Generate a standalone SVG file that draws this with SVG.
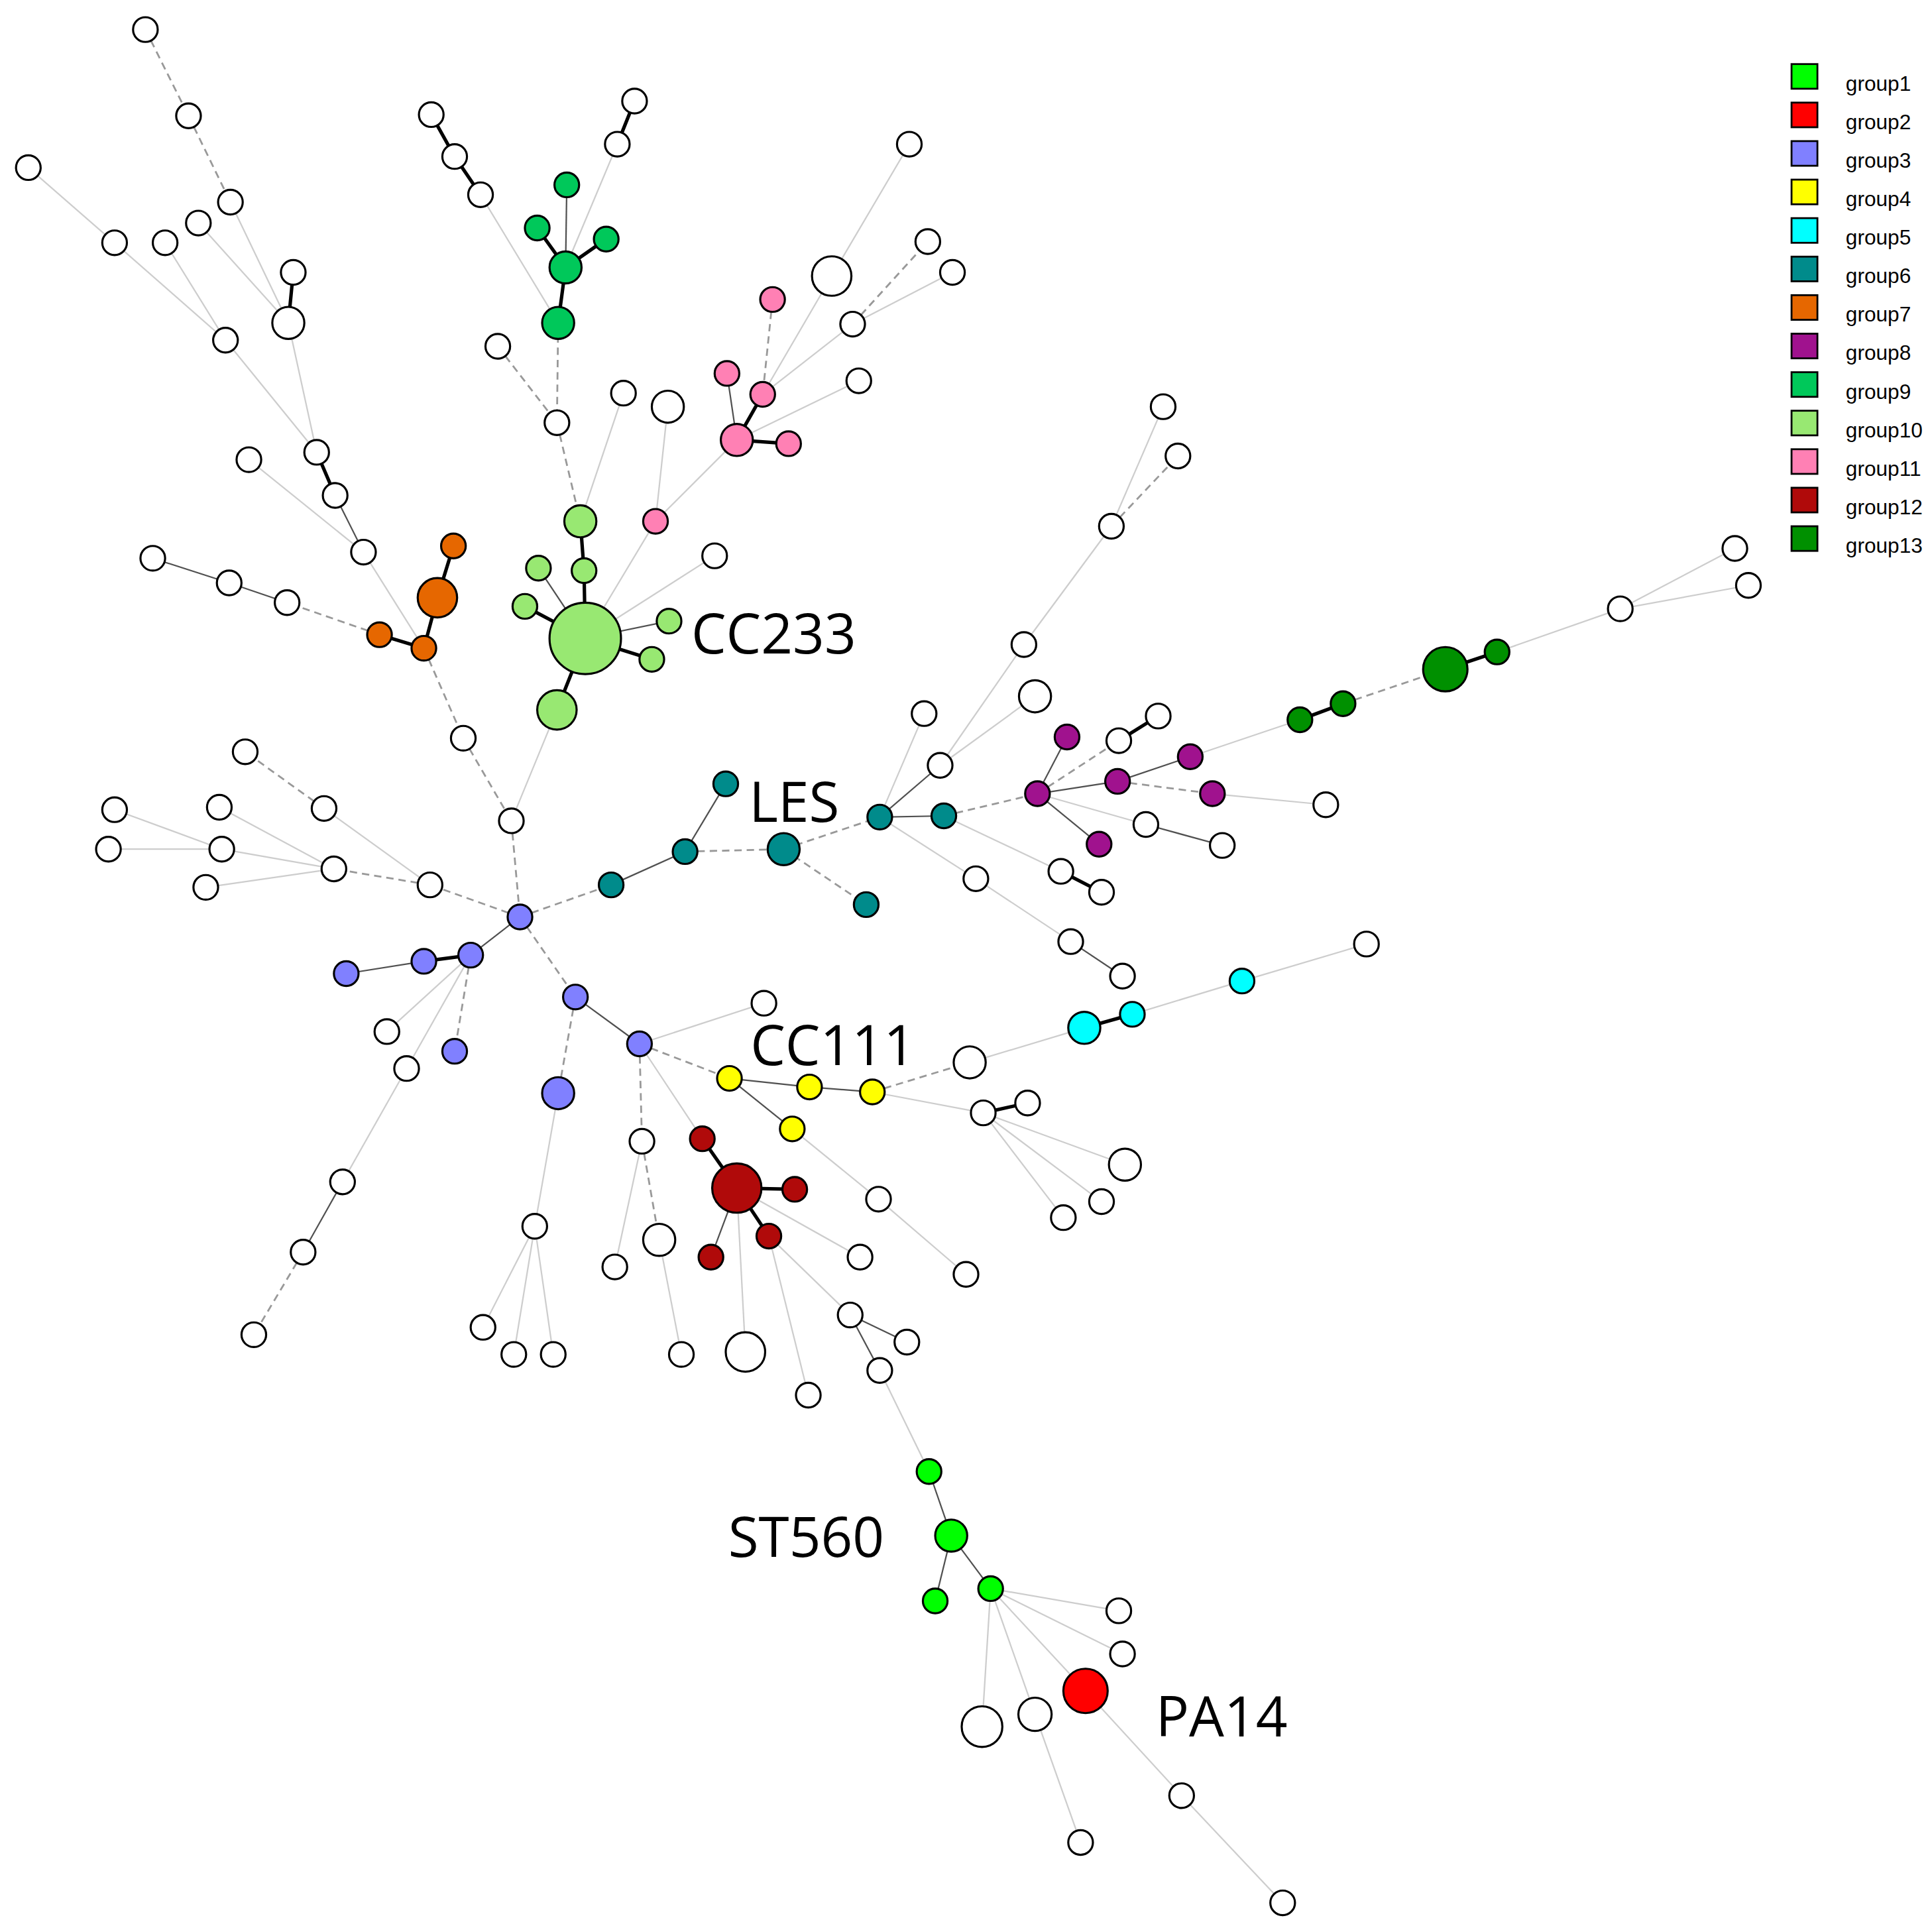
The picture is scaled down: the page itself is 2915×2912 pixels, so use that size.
<svg xmlns="http://www.w3.org/2000/svg" width="2915" height="2912" viewBox="0 0 2915 2912">
<style>
.K{stroke:#000;stroke-width:2.8;stroke-linecap:round}
.T{stroke:#505050;stroke-width:1.2}
.D{stroke:#999;stroke-width:1.5;stroke-dasharray:6 4}
.L{stroke:#cdcdcd;stroke-width:1.2}
circle{stroke:#000;stroke-width:1.7}
.w{fill:#fff}.g1{fill:#00ff00}.g2{fill:#ff0000}.g3{fill:#8080ff}.g4{fill:#ffff00}.g5{fill:#00ffff}.g6{fill:#008b8b}.g7{fill:#e66700}.g8{fill:#a0128e}.g9{fill:#00c85a}.g10{fill:#98e872}.g11{fill:#ff80b4}.g12{fill:#b00a0a}.g13{fill:#009000}
.lbl{font-family:"Open Sans","Noto Sans",sans-serif;font-size:45px;fill:#000}
.leg{font-family:"Liberation Sans",Arial,sans-serif;font-size:17px;fill:#000}
.sq{stroke:#000;stroke-width:1.5}
</style>
<rect width="2915" height="2912" fill="#fff"/>
<g transform="scale(1.85906 1.85951)">
<g id="connectors">
<line class="D" x1="118" y1="24" x2="153" y2="94"/>
<line class="D" x1="153" y1="94" x2="187" y2="164"/>
<line class="L" x1="187" y1="164" x2="234" y2="262"/>
<line class="L" x1="161" y1="181" x2="234" y2="262"/>
<line class="K" x1="238" y1="221" x2="234" y2="262"/>
<line class="L" x1="234" y1="262" x2="257" y2="367"/>
<line class="L" x1="23" y1="136" x2="93" y2="197"/>
<line class="L" x1="93" y1="197" x2="183" y2="276"/>
<line class="L" x1="134" y1="197" x2="183" y2="276"/>
<line class="L" x1="183" y1="276" x2="257" y2="367"/>
<line class="K" x1="257" y1="367" x2="272" y2="402"/>
<line class="T" x1="272" y1="402" x2="295" y2="448"/>
<line class="L" x1="202" y1="373" x2="295" y2="448"/>
<line class="L" x1="295" y1="448" x2="344" y2="526"/>
<line class="K" x1="368" y1="443" x2="355" y2="485"/>
<line class="K" x1="355" y1="485" x2="344" y2="526"/>
<line class="K" x1="344" y1="526" x2="308" y2="515"/>
<line class="D" x1="308" y1="515" x2="233" y2="489"/>
<line class="T" x1="233" y1="489" x2="186" y2="473"/>
<line class="T" x1="186" y1="473" x2="124" y2="453"/>
<line class="D" x1="344" y1="526" x2="376" y2="599"/>
<line class="D" x1="376" y1="599" x2="415" y2="666"/>
<line class="D" x1="415" y1="666" x2="422" y2="744"/>
<line class="L" x1="415" y1="666" x2="452" y2="576"/>
<line class="K" x1="350" y1="93" x2="369" y2="127"/>
<line class="K" x1="369" y1="127" x2="390" y2="158"/>
<line class="L" x1="390" y1="158" x2="453" y2="262"/>
<line class="K" x1="515" y1="82" x2="501" y2="117"/>
<line class="L" x1="501" y1="117" x2="459" y2="217"/>
<line class="T" x1="460" y1="150" x2="459" y2="217"/>
<line class="K" x1="436" y1="185" x2="459" y2="217"/>
<line class="K" x1="492" y1="194" x2="459" y2="217"/>
<line class="K" x1="459" y1="217" x2="453" y2="262"/>
<line class="D" x1="453" y1="262" x2="452" y2="343"/>
<line class="D" x1="404" y1="281" x2="452" y2="343"/>
<line class="D" x1="452" y1="343" x2="471" y2="423"/>
<line class="K" x1="471" y1="423" x2="474" y2="463"/>
<line class="K" x1="474" y1="463" x2="475" y2="518"/>
<line class="T" x1="437" y1="461" x2="475" y2="518"/>
<line class="K" x1="426" y1="492" x2="475" y2="518"/>
<line class="T" x1="543" y1="504" x2="475" y2="518"/>
<line class="K" x1="529" y1="535" x2="475" y2="518"/>
<line class="K" x1="475" y1="518" x2="452" y2="576"/>
<line class="L" x1="506" y1="319" x2="471" y2="423"/>
<line class="L" x1="475" y1="518" x2="532" y2="423"/>
<line class="L" x1="475" y1="518" x2="580" y2="451"/>
<line class="L" x1="542" y1="330" x2="532" y2="423"/>
<line class="D" x1="627" y1="243" x2="619" y2="320"/>
<line class="T" x1="590" y1="303" x2="598" y2="357"/>
<line class="K" x1="619" y1="320" x2="598" y2="357"/>
<line class="K" x1="598" y1="357" x2="640" y2="360"/>
<line class="L" x1="598" y1="357" x2="532" y2="423"/>
<line class="L" x1="619" y1="320" x2="675" y2="224"/>
<line class="L" x1="675" y1="224" x2="738" y2="117"/>
<line class="L" x1="619" y1="320" x2="692" y2="263"/>
<line class="D" x1="692" y1="263" x2="753" y2="196"/>
<line class="L" x1="692" y1="263" x2="773" y2="221"/>
<line class="L" x1="598" y1="357" x2="697" y2="309"/>
<line class="D" x1="422" y1="744" x2="349" y2="718"/>
<line class="D" x1="349" y1="718" x2="271" y2="705"/>
<line class="L" x1="349" y1="718" x2="263" y2="656"/>
<line class="D" x1="263" y1="656" x2="199" y2="610"/>
<line class="L" x1="271" y1="705" x2="178" y2="655"/>
<line class="L" x1="271" y1="705" x2="180" y2="689"/>
<line class="L" x1="271" y1="705" x2="167" y2="720"/>
<line class="L" x1="180" y1="689" x2="88" y2="689"/>
<line class="L" x1="180" y1="689" x2="93" y2="657"/>
<line class="T" x1="422" y1="744" x2="382" y2="775"/>
<line class="K" x1="382" y1="775" x2="344" y2="780"/>
<line class="T" x1="344" y1="780" x2="281" y2="790"/>
<line class="D" x1="382" y1="775" x2="369" y2="853"/>
<line class="L" x1="382" y1="775" x2="314" y2="837"/>
<line class="L" x1="382" y1="775" x2="330" y2="867"/>
<line class="L" x1="330" y1="867" x2="278" y2="959"/>
<line class="T" x1="278" y1="959" x2="246" y2="1016"/>
<line class="D" x1="246" y1="1016" x2="206" y2="1083"/>
<line class="D" x1="422" y1="744" x2="496" y2="718"/>
<line class="D" x1="422" y1="744" x2="467" y2="809"/>
<line class="T" x1="467" y1="809" x2="519" y2="847"/>
<line class="D" x1="467" y1="809" x2="453" y2="887"/>
<line class="L" x1="453" y1="887" x2="434" y2="995"/>
<line class="L" x1="434" y1="995" x2="392" y2="1077"/>
<line class="L" x1="434" y1="995" x2="417" y2="1099"/>
<line class="L" x1="434" y1="995" x2="449" y2="1099"/>
<line class="L" x1="519" y1="847" x2="620" y2="814"/>
<line class="D" x1="519" y1="847" x2="592" y2="875"/>
<line class="D" x1="519" y1="847" x2="521" y2="926"/>
<line class="L" x1="519" y1="847" x2="570" y2="924"/>
<line class="L" x1="521" y1="926" x2="499" y2="1028"/>
<line class="D" x1="521" y1="926" x2="535" y2="1006"/>
<line class="L" x1="535" y1="1006" x2="553" y2="1099"/>
<line class="K" x1="570" y1="924" x2="598" y2="964"/>
<line class="K" x1="598" y1="964" x2="645" y2="965"/>
<line class="K" x1="598" y1="964" x2="624" y2="1003"/>
<line class="T" x1="598" y1="964" x2="577" y2="1020"/>
<line class="L" x1="598" y1="964" x2="605" y2="1097"/>
<line class="L" x1="598" y1="964" x2="698" y2="1020"/>
<line class="L" x1="624" y1="1003" x2="656" y2="1132"/>
<line class="L" x1="624" y1="1003" x2="690" y2="1067"/>
<line class="T" x1="690" y1="1067" x2="736" y2="1089"/>
<line class="T" x1="690" y1="1067" x2="714" y2="1112"/>
<line class="L" x1="714" y1="1112" x2="754" y2="1194"/>
<line class="T" x1="592" y1="875" x2="657" y2="882"/>
<line class="T" x1="657" y1="882" x2="708" y2="886"/>
<line class="T" x1="592" y1="875" x2="643" y2="916"/>
<line class="L" x1="643" y1="916" x2="713" y2="973"/>
<line class="L" x1="713" y1="973" x2="784" y2="1034"/>
<line class="D" x1="708" y1="886" x2="787" y2="862"/>
<line class="L" x1="787" y1="862" x2="880" y2="834"/>
<line class="L" x1="708" y1="886" x2="798" y2="903"/>
<line class="K" x1="798" y1="903" x2="834" y2="895"/>
<line class="L" x1="798" y1="903" x2="913" y2="945"/>
<line class="L" x1="798" y1="903" x2="894" y2="975"/>
<line class="L" x1="798" y1="903" x2="863" y2="988"/>
<line class="K" x1="880" y1="834" x2="919" y2="823"/>
<line class="L" x1="919" y1="823" x2="1008" y2="796"/>
<line class="L" x1="1008" y1="796" x2="1109" y2="766"/>
<line class="T" x1="496" y1="718" x2="556" y2="691"/>
<line class="T" x1="556" y1="691" x2="589" y2="636"/>
<line class="D" x1="556" y1="691" x2="636" y2="689"/>
<line class="D" x1="636" y1="689" x2="703" y2="734"/>
<line class="D" x1="636" y1="689" x2="714" y2="663"/>
<line class="T" x1="714" y1="663" x2="766" y2="662"/>
<line class="T" x1="714" y1="663" x2="763" y2="621"/>
<line class="L" x1="714" y1="663" x2="750" y2="579"/>
<line class="L" x1="763" y1="621" x2="840" y2="565"/>
<line class="L" x1="763" y1="621" x2="831" y2="523"/>
<line class="L" x1="831" y1="523" x2="902" y2="427"/>
<line class="L" x1="902" y1="427" x2="944" y2="330"/>
<line class="D" x1="902" y1="427" x2="956" y2="370"/>
<line class="L" x1="714" y1="663" x2="792" y2="713"/>
<line class="L" x1="792" y1="713" x2="869" y2="764"/>
<line class="T" x1="869" y1="764" x2="911" y2="792"/>
<line class="L" x1="766" y1="662" x2="861" y2="707"/>
<line class="K" x1="861" y1="707" x2="894" y2="724"/>
<line class="D" x1="766" y1="662" x2="842" y2="644"/>
<line class="T" x1="842" y1="644" x2="866" y2="598"/>
<line class="D" x1="842" y1="644" x2="908" y2="601"/>
<line class="K" x1="908" y1="601" x2="940" y2="581"/>
<line class="T" x1="842" y1="644" x2="907" y2="634"/>
<line class="T" x1="907" y1="634" x2="966" y2="614"/>
<line class="D" x1="907" y1="634" x2="984" y2="644"/>
<line class="L" x1="984" y1="644" x2="1076" y2="653"/>
<line class="T" x1="842" y1="644" x2="892" y2="685"/>
<line class="L" x1="842" y1="644" x2="930" y2="669"/>
<line class="T" x1="930" y1="669" x2="992" y2="686"/>
<line class="L" x1="966" y1="614" x2="1055" y2="584"/>
<line class="K" x1="1055" y1="584" x2="1090" y2="571"/>
<line class="D" x1="1090" y1="571" x2="1173" y2="543"/>
<line class="K" x1="1173" y1="543" x2="1215" y2="529"/>
<line class="L" x1="1215" y1="529" x2="1315" y2="494"/>
<line class="L" x1="1315" y1="494" x2="1408" y2="445"/>
<line class="L" x1="1315" y1="494" x2="1419" y2="475"/>
<line class="T" x1="754" y1="1194" x2="772" y2="1246"/>
<line class="T" x1="772" y1="1246" x2="759" y2="1299"/>
<line class="T" x1="772" y1="1246" x2="804" y2="1289"/>
<line class="L" x1="804" y1="1289" x2="908" y2="1307"/>
<line class="L" x1="804" y1="1289" x2="911" y2="1342"/>
<line class="L" x1="804" y1="1289" x2="881" y2="1372"/>
<line class="L" x1="881" y1="1372" x2="959" y2="1457"/>
<line class="L" x1="959" y1="1457" x2="1041" y2="1544"/>
<line class="L" x1="804" y1="1289" x2="797" y2="1401"/>
<line class="L" x1="804" y1="1289" x2="840" y2="1391"/>
<line class="L" x1="840" y1="1391" x2="877" y2="1495"/>
</g>
<g id="nodes">
<g id="w1"><circle class="w" cx="118" cy="24" r="10"/></g>
<g id="w2"><circle class="w" cx="153" cy="94" r="10"/></g>
<g id="w3"><circle class="w" cx="187" cy="164" r="10"/></g>
<g id="w4"><circle class="w" cx="23" cy="136" r="10"/></g>
<g id="w5"><circle class="w" cx="93" cy="197" r="10"/></g>
<g id="w5b"><circle class="w" cx="134" cy="197" r="10"/></g>
<g id="w6"><circle class="w" cx="161" cy="181" r="10"/></g>
<g id="w7"><circle class="w" cx="238" cy="221" r="10"/></g>
<g id="w8"><circle class="w" cx="234" cy="262" r="13"/></g>
<g id="w9"><circle class="w" cx="183" cy="276" r="10"/></g>
<g id="w10"><circle class="w" cx="257" cy="367" r="10"/></g>
<g id="w11"><circle class="w" cx="272" cy="402" r="10"/></g>
<g id="w12"><circle class="w" cx="295" cy="448" r="10"/></g>
<g id="w13"><circle class="w" cx="202" cy="373" r="10"/></g>
<g id="w14"><circle class="w" cx="124" cy="453" r="10"/></g>
<g id="w15"><circle class="w" cx="186" cy="473" r="10"/></g>
<g id="w16"><circle class="w" cx="233" cy="489" r="10"/></g>
<g id="w17"><circle class="w" cx="376" cy="599" r="10"/></g>
<g id="w18"><circle class="w" cx="415" cy="666" r="10"/></g>
<g id="w19"><circle class="w" cx="350" cy="93" r="10"/></g>
<g id="w20"><circle class="w" cx="369" cy="127" r="10"/></g>
<g id="w21"><circle class="w" cx="390" cy="158" r="10"/></g>
<g id="w22"><circle class="w" cx="515" cy="82" r="10"/></g>
<g id="w23"><circle class="w" cx="501" cy="117" r="10"/></g>
<g id="w24"><circle class="w" cx="404" cy="281" r="10"/></g>
<g id="w25"><circle class="w" cx="452" cy="343" r="10"/></g>
<g id="w26"><circle class="w" cx="506" cy="319" r="10"/></g>
<g id="w27"><circle class="w" cx="542" cy="330" r="13"/></g>
<g id="w28"><circle class="w" cx="580" cy="451" r="10"/></g>
<g id="w29"><circle class="w" cx="675" cy="224" r="16"/></g>
<g id="w30"><circle class="w" cx="738" cy="117" r="10"/></g>
<g id="w31"><circle class="w" cx="692" cy="263" r="10"/></g>
<g id="w32"><circle class="w" cx="753" cy="196" r="10"/></g>
<g id="w33"><circle class="w" cx="773" cy="221" r="10"/></g>
<g id="w34"><circle class="w" cx="697" cy="309" r="10"/></g>
<g id="w35"><circle class="w" cx="199" cy="610" r="10"/></g>
<g id="w36"><circle class="w" cx="263" cy="656" r="10"/></g>
<g id="w37"><circle class="w" cx="178" cy="655" r="10"/></g>
<g id="w38"><circle class="w" cx="93" cy="657" r="10"/></g>
<g id="w39"><circle class="w" cx="88" cy="689" r="10"/></g>
<g id="w40"><circle class="w" cx="180" cy="689" r="10"/></g>
<g id="w41"><circle class="w" cx="167" cy="720" r="10"/></g>
<g id="w42"><circle class="w" cx="271" cy="705" r="10"/></g>
<g id="w43"><circle class="w" cx="349" cy="718" r="10"/></g>
<g id="w44"><circle class="w" cx="314" cy="837" r="10"/></g>
<g id="w45"><circle class="w" cx="330" cy="867" r="10"/></g>
<g id="w46"><circle class="w" cx="278" cy="959" r="10"/></g>
<g id="w47"><circle class="w" cx="246" cy="1016" r="10"/></g>
<g id="w48"><circle class="w" cx="206" cy="1083" r="10"/></g>
<g id="w49"><circle class="w" cx="434" cy="995" r="10"/></g>
<g id="w50"><circle class="w" cx="392" cy="1077" r="10"/></g>
<g id="w51"><circle class="w" cx="417" cy="1099" r="10"/></g>
<g id="w52"><circle class="w" cx="449" cy="1099" r="10"/></g>
<g id="w53"><circle class="w" cx="620" cy="814" r="10"/></g>
<g id="w54"><circle class="w" cx="521" cy="926" r="10"/></g>
<g id="w55"><circle class="w" cx="499" cy="1028" r="10"/></g>
<g id="w56"><circle class="w" cx="535" cy="1006" r="13"/></g>
<g id="w57"><circle class="w" cx="553" cy="1099" r="10"/></g>
<g id="w58"><circle class="w" cx="605" cy="1097" r="16"/></g>
<g id="w59"><circle class="w" cx="656" cy="1132" r="10"/></g>
<g id="w60"><circle class="w" cx="698" cy="1020" r="10"/></g>
<g id="w61"><circle class="w" cx="690" cy="1067" r="10"/></g>
<g id="w62"><circle class="w" cx="736" cy="1089" r="10"/></g>
<g id="w63"><circle class="w" cx="714" cy="1112" r="10"/></g>
<g id="w64"><circle class="w" cx="713" cy="973" r="10"/></g>
<g id="w65"><circle class="w" cx="784" cy="1034" r="10"/></g>
<g id="w66"><circle class="w" cx="787" cy="862" r="13"/></g>
<g id="w67"><circle class="w" cx="798" cy="903" r="10"/></g>
<g id="w68"><circle class="w" cx="834" cy="895" r="10"/></g>
<g id="w69"><circle class="w" cx="913" cy="945" r="13"/></g>
<g id="w70"><circle class="w" cx="894" cy="975" r="10"/></g>
<g id="w71"><circle class="w" cx="863" cy="988" r="10"/></g>
<g id="w72"><circle class="w" cx="1109" cy="766" r="10"/></g>
<g id="w73"><circle class="w" cx="750" cy="579" r="10"/></g>
<g id="w74"><circle class="w" cx="763" cy="621" r="10"/></g>
<g id="w75"><circle class="w" cx="840" cy="565" r="13"/></g>
<g id="w76"><circle class="w" cx="831" cy="523" r="10"/></g>
<g id="w77"><circle class="w" cx="902" cy="427" r="10"/></g>
<g id="w78"><circle class="w" cx="944" cy="330" r="10"/></g>
<g id="w79"><circle class="w" cx="956" cy="370" r="10"/></g>
<g id="w80"><circle class="w" cx="792" cy="713" r="10"/></g>
<g id="w81"><circle class="w" cx="869" cy="764" r="10"/></g>
<g id="w82"><circle class="w" cx="911" cy="792" r="10"/></g>
<g id="w83"><circle class="w" cx="861" cy="707" r="10"/></g>
<g id="w84"><circle class="w" cx="894" cy="724" r="10"/></g>
<g id="w85"><circle class="w" cx="908" cy="601" r="10"/></g>
<g id="w86"><circle class="w" cx="940" cy="581" r="10"/></g>
<g id="w87"><circle class="w" cx="930" cy="669" r="10"/></g>
<g id="w88"><circle class="w" cx="992" cy="686" r="10"/></g>
<g id="w89"><circle class="w" cx="1076" cy="653" r="10"/></g>
<g id="w90"><circle class="w" cx="1315" cy="494" r="10"/></g>
<g id="w91"><circle class="w" cx="1408" cy="445" r="10"/></g>
<g id="w92"><circle class="w" cx="1419" cy="475" r="10"/></g>
<g id="w93"><circle class="w" cx="908" cy="1307" r="10"/></g>
<g id="w94"><circle class="w" cx="911" cy="1342" r="10"/></g>
<g id="w95"><circle class="w" cx="797" cy="1401" r="16.5"/></g>
<g id="w96"><circle class="w" cx="840" cy="1391" r="13.5"/></g>
<g id="w97"><circle class="w" cx="877" cy="1495" r="10"/></g>
<g id="w98"><circle class="w" cx="959" cy="1457" r="10"/></g>
<g id="w99"><circle class="w" cx="1041" cy="1544" r="10"/></g>
<g id="o1"><circle class="g7" cx="368" cy="443" r="10"/></g>
<g id="o2"><circle class="g7" cx="355" cy="485" r="16"/></g>
<g id="o3"><circle class="g7" cx="344" cy="526" r="10"/></g>
<g id="o4"><circle class="g7" cx="308" cy="515" r="10"/></g>
<g id="gA0"><circle class="g9" cx="460" cy="150" r="10"/></g>
<g id="gA3"><circle class="g9" cx="436" cy="185" r="10"/></g>
<g id="gA4"><circle class="g9" cx="492" cy="194" r="10"/></g>
<g id="gA1"><circle class="g9" cx="459" cy="217" r="13"/></g>
<g id="gA2"><circle class="g9" cx="453" cy="262" r="13"/></g>
<g id="lg1"><circle class="g10" cx="471" cy="423" r="13"/></g>
<g id="lg2"><circle class="g10" cx="474" cy="463" r="10"/></g>
<g id="lg3"><circle class="g10" cx="437" cy="461" r="10"/></g>
<g id="lg4"><circle class="g10" cx="426" cy="492" r="10"/></g>
<g id="lgc"><circle class="g10" cx="475" cy="518" r="29"/></g>
<g id="lg5"><circle class="g10" cx="543" cy="504" r="10"/></g>
<g id="lg6"><circle class="g10" cx="529" cy="535" r="10"/></g>
<g id="lg7"><circle class="g10" cx="452" cy="576" r="16"/></g>
<g id="p1"><circle class="g11" cx="627" cy="243" r="10"/></g>
<g id="p2"><circle class="g11" cx="590" cy="303" r="10"/></g>
<g id="p3"><circle class="g11" cx="619" cy="320" r="10"/></g>
<g id="p4"><circle class="g11" cx="598" cy="357" r="13"/></g>
<g id="p5"><circle class="g11" cx="640" cy="360" r="10"/></g>
<g id="p6"><circle class="g11" cx="532" cy="423" r="10"/></g>
<g id="bl0"><circle class="g3" cx="422" cy="744" r="10"/></g>
<g id="bl1"><circle class="g3" cx="382" cy="775" r="10"/></g>
<g id="bl2"><circle class="g3" cx="344" cy="780" r="10"/></g>
<g id="bl3"><circle class="g3" cx="281" cy="790" r="10"/></g>
<g id="bl4"><circle class="g3" cx="369" cy="853" r="10"/></g>
<g id="bl5"><circle class="g3" cx="467" cy="809" r="10"/></g>
<g id="bl6"><circle class="g3" cx="519" cy="847" r="10"/></g>
<g id="bl7"><circle class="g3" cx="453" cy="887" r="13"/></g>
<g id="t1"><circle class="g6" cx="496" cy="718" r="10"/></g>
<g id="t2"><circle class="g6" cx="556" cy="691" r="10"/></g>
<g id="t3"><circle class="g6" cx="589" cy="636" r="10"/></g>
<g id="t4"><circle class="g6" cx="636" cy="689" r="13"/></g>
<g id="t5"><circle class="g6" cx="703" cy="734" r="10"/></g>
<g id="t6"><circle class="g6" cx="714" cy="663" r="10"/></g>
<g id="t7"><circle class="g6" cx="766" cy="662" r="10"/></g>
<g id="pu0"><circle class="g8" cx="842" cy="644" r="10"/></g>
<g id="pu1"><circle class="g8" cx="866" cy="598" r="10"/></g>
<g id="pu2"><circle class="g8" cx="907" cy="634" r="10"/></g>
<g id="pu3"><circle class="g8" cx="966" cy="614" r="10"/></g>
<g id="pu4"><circle class="g8" cx="984" cy="644" r="10"/></g>
<g id="pu5"><circle class="g8" cx="892" cy="685" r="10"/></g>
<g id="dg1"><circle class="g13" cx="1055" cy="584" r="10"/></g>
<g id="dg2"><circle class="g13" cx="1090" cy="571" r="10"/></g>
<g id="dg3"><circle class="g13" cx="1173" cy="543" r="18"/></g>
<g id="dg4"><circle class="g13" cx="1215" cy="529" r="10"/></g>
<g id="y1"><circle class="g4" cx="592" cy="875" r="10"/></g>
<g id="y2"><circle class="g4" cx="657" cy="882" r="10"/></g>
<g id="y3"><circle class="g4" cx="708" cy="886" r="10"/></g>
<g id="y4"><circle class="g4" cx="643" cy="916" r="10"/></g>
<g id="c1"><circle class="g5" cx="880" cy="834" r="13"/></g>
<g id="c2"><circle class="g5" cx="919" cy="823" r="10"/></g>
<g id="c3"><circle class="g5" cx="1008" cy="796" r="10"/></g>
<g id="rc"><circle class="g12" cx="598" cy="964" r="20"/></g>
<g id="r1"><circle class="g12" cx="570" cy="924" r="10"/></g>
<g id="r2"><circle class="g12" cx="645" cy="965" r="10"/></g>
<g id="r3"><circle class="g12" cx="624" cy="1003" r="10"/></g>
<g id="r4"><circle class="g12" cx="577" cy="1020" r="10"/></g>
<g id="gg1"><circle class="g1" cx="754" cy="1194" r="10"/></g>
<g id="gg2"><circle class="g1" cx="772" cy="1246" r="13"/></g>
<g id="gg3"><circle class="g1" cx="759" cy="1299" r="10"/></g>
<g id="gg4"><circle class="g1" cx="804" cy="1289" r="10"/></g>
<g id="pa14"><circle class="g2" cx="881" cy="1372" r="18"/></g>
</g>
<g id="labels">
<text class="lbl" x="561" y="530">CC233</text>
<text class="lbl" x="608" y="667">LES</text>
<text class="lbl" x="609" y="864">CC111</text>
<text class="lbl" x="591" y="1263">ST560</text>
<text class="lbl" x="938" y="1409">PA14</text>
</g>
<g id="legend">
<rect class="sq g1" x="1454" y="52" width="21" height="20"/><text class="leg" x="1498" y="73.5">group1</text>
<rect class="sq g2" x="1454" y="83.25" width="21" height="20"/><text class="leg" x="1498" y="104.75">group2</text>
<rect class="sq g3" x="1454" y="114.5" width="21" height="20"/><text class="leg" x="1498" y="136">group3</text>
<rect class="sq g4" x="1454" y="145.75" width="21" height="20"/><text class="leg" x="1498" y="167.25">group4</text>
<rect class="sq g5" x="1454" y="177" width="21" height="20"/><text class="leg" x="1498" y="198.5">group5</text>
<rect class="sq g6" x="1454" y="208.25" width="21" height="20"/><text class="leg" x="1498" y="229.75">group6</text>
<rect class="sq g7" x="1454" y="239.5" width="21" height="20"/><text class="leg" x="1498" y="261">group7</text>
<rect class="sq g8" x="1454" y="270.75" width="21" height="20"/><text class="leg" x="1498" y="292.25">group8</text>
<rect class="sq g9" x="1454" y="302" width="21" height="20"/><text class="leg" x="1498" y="323.5">group9</text>
<rect class="sq g10" x="1454" y="333.25" width="21" height="20"/><text class="leg" x="1498" y="354.75">group10</text>
<rect class="sq g11" x="1454" y="364.5" width="21" height="20"/><text class="leg" x="1498" y="386">group11</text>
<rect class="sq g12" x="1454" y="395.75" width="21" height="20"/><text class="leg" x="1498" y="417.25">group12</text>
<rect class="sq g13" x="1454" y="427" width="21" height="20"/><text class="leg" x="1498" y="448.5">group13</text>
</g>
</g>
</svg>
